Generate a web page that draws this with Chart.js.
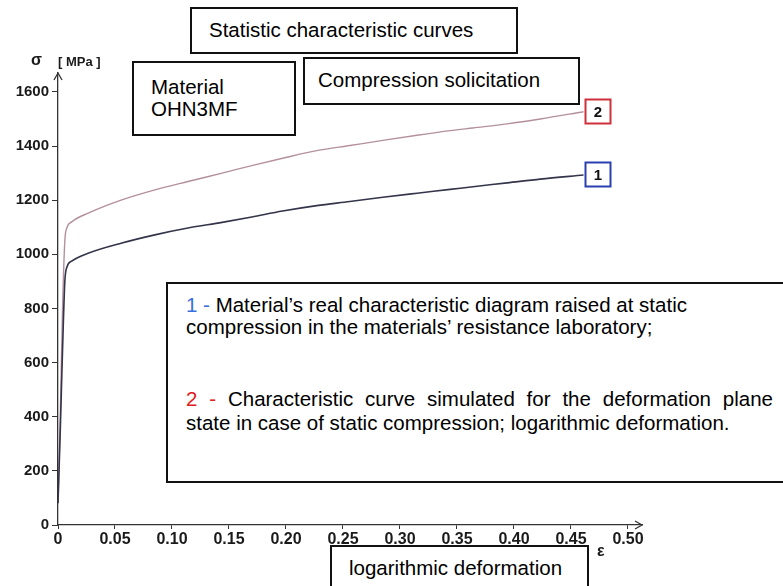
<!DOCTYPE html>
<html>
<head>
<meta charset="utf-8">
<script src="https://cdn.jsdelivr.net/npm/chart.js@4/dist/chart.umd.min.js"></script>
<style>
    html, body { margin: 0; padding: 0; background: #fff; }
    #wrap { position: relative; width: 783px; height: 586px; overflow: hidden; font-family: "Liberation Sans", Arial, sans-serif; color: #000; }
    #chart { position: absolute; left: 0; top: 0; }
    .box { position: absolute; border: 2px solid #111; background: #fff; box-sizing: border-box; font-size: 20.5px; line-height: 24px; white-space: nowrap; }
    .axis-label { position: absolute; font-family: "Liberation Sans", Arial, sans-serif; font-weight: bold; color: #1a1a1a; }
</style>
</head>
<body>
<div id="wrap">
    <canvas id="chart" width="783" height="586"></canvas>

    <div class="box" style="left:190px; top:7px; width:328px; height:47px; padding:9px 0 0 17px;">Statistic characteristic curves</div>
    <div class="box" style="left:132px; top:61px; width:164px; height:75px; padding:13px 0 0 17px; line-height:22px;">Material<br>OHN3MF</div>
    <div class="box" style="left:303px; top:57px; width:277px; height:48px; padding:9px 0 0 13px;">Compression solicitation</div>

    <div class="box" style="left:166px; top:282px; width:620px; height:201px; padding:10px 0 0 18px; line-height:22px;">
        <div><span style="color:#3a6fe0">1 -</span> Material’s real characteristic diagram raised at static<br>compression in the materials’ resistance laboratory;</div>
        <div style="margin-top:49px; width:587px; text-align:justify; text-align-last:justify; line-height:24px;"><span style="color:#e02020">2 -</span> Characteristic curve simulated for the deformation plane</div>
        <div style="line-height:24px;">state in case of static compression; logarithmic deformation.</div>
    </div>

    <div class="box" style="left:330px; top:545px; width:259px; height:50px; padding:9px 0 0 17px;">logarithmic deformation</div>

    <div class="axis-label" style="left:31px; top:51px; font-size:16px;">σ</div>
    <div class="axis-label" style="left:58px; top:54px; font-size:13px;">[ MPa ]</div>
    <div class="axis-label" style="left:597px; top:542px; font-size:16px;">ε</div>
</div>

<script>
// ==========================================
// DATA
// ==========================================
const strain = [0.000, 0.002, 0.004, 0.006, 0.008, 0.012, 0.027, 0.056, 0.085, 0.114, 0.144, 0.170, 0.197, 0.227, 0.256, 0.285, 0.315, 0.344, 0.364, 0.394, 0.423, 0.461];

// 1 - real characteristic diagram (static compression)
const stressReal = [80, 350, 650, 900, 955, 975, 1005, 1042, 1072, 1097, 1118, 1138, 1160, 1180, 1195, 1211, 1226, 1240, 1250, 1264, 1278, 1293];

// 2 - simulated curve, deformation plane state
const stressSimulated = [80, 400, 800, 1050, 1100, 1120, 1153, 1201, 1238, 1269, 1300, 1328, 1355, 1383, 1402, 1421, 1440, 1457, 1467, 1482, 1500, 1527];

const seriesLabels = ['1', '2'];
const xTicks = [0, 0.05, 0.10, 0.15, 0.20, 0.25, 0.30, 0.35, 0.40, 0.45, 0.50];
const yTicks = [0, 200, 400, 600, 800, 1000, 1200, 1400, 1600];

const boxColors = ['#2a3fb0', '#d0303a'];

function toPoints(xs, ys) {
    return xs.map((x, i) => ({ x: x, y: ys[i] }));
}

// arrow heads at the axis ends + numbered boxes at curve ends
const extrasPlugin = {
    id: 'extras',
    afterDatasetsDraw(chart) {
        const ctx = chart.ctx;
        const area = chart.chartArea;

        ctx.save();
        ctx.strokeStyle = '#333';
        ctx.lineWidth = 1.3;
        // y arrow
        ctx.beginPath();
        ctx.moveTo(area.left - 4, area.top + 7);
        ctx.lineTo(area.left, area.top);
        ctx.lineTo(area.left + 4, area.top + 7);
        ctx.stroke();
        // x arrow
        ctx.beginPath();
        ctx.moveTo(area.right - 7, area.bottom - 4);
        ctx.lineTo(area.right, area.bottom);
        ctx.lineTo(area.right - 7, area.bottom + 4);
        ctx.stroke();

        // label boxes
        chart.data.datasets.forEach((ds, i) => {
            const meta = chart.getDatasetMeta(i);
            const last = meta.data[meta.data.length - 1];
            const bx = Math.round(last.x) + 1.5;
            const by = Math.round(last.y) - 12.5;
            ctx.fillStyle = '#fff';
            ctx.fillRect(bx, by, 25, 24);
            ctx.strokeStyle = boxColors[i];
            ctx.lineWidth = 2;
            ctx.strokeRect(bx, by, 25, 24);
            ctx.fillStyle = '#111';
            ctx.font = 'bold 15px "Liberation Sans", Arial, sans-serif';
            ctx.textAlign = 'center';
            ctx.textBaseline = 'middle';
            ctx.fillText(seriesLabels[i], bx + 12.5, by + 13);
        });
        ctx.restore();
    }
};

const tickFamily = '"Liberation Sans", Arial, sans-serif';

new Chart(document.getElementById('chart'), {
    type: 'scatter',
    data: {
        datasets: [
            {
                label: seriesLabels[0],
                data: toPoints(strain, stressReal),
                showLine: true,
                borderColor: '#34344a',
                borderWidth: 1.6,
                pointRadius: 0,
                cubicInterpolationMode: 'monotone'
            },
            {
                label: seriesLabels[1],
                data: toPoints(strain, stressSimulated),
                showLine: true,
                borderColor: '#b4909e',
                borderWidth: 1.4,
                pointRadius: 0,
                cubicInterpolationMode: 'monotone'
            }
        ]
    },
    options: {
        responsive: false,
        animation: false,
        layout: { padding: { left: 0, top: 73, right: 141, bottom: 0 } },
        plugins: {
            legend: { display: false },
            tooltip: { enabled: false }
        },
        scales: {
            x: {
                type: 'linear',
                min: 0,
                max: 0.5123,
                afterFit: s => { s.height = 61; },
                afterBuildTicks: s => { s.ticks = xTicks.map(v => ({ value: v })); },
                border: { display: true, color: '#333', width: 1.3 },
                grid: { drawOnChartArea: false, color: '#333', tickLength: 4 },
                ticks: {
                    color: '#1a1a1a',
                    font: { family: tickFamily, size: 16, weight: 'bold' },
                    padding: 1,
                    maxRotation: 0,
                    callback: v => v === 0 ? '0' : v.toFixed(2)
                }
            },
            y: {
                type: 'linear',
                min: 0,
                max: 1670,
                afterFit: s => { s.width = 58; },
                afterBuildTicks: s => { s.ticks = yTicks.map(v => ({ value: v })); },
                border: { display: true, color: '#333', width: 1.3 },
                grid: { drawOnChartArea: false, color: '#333', tickLength: 6 },
                ticks: {
                    color: '#1a1a1a',
                    font: { family: tickFamily, size: 15, weight: 'bold' },
                    padding: 3,
                    callback: v => String(v)
                }
            }
        }
    },
    plugins: [extrasPlugin]
});
</script>
</body>
</html>
